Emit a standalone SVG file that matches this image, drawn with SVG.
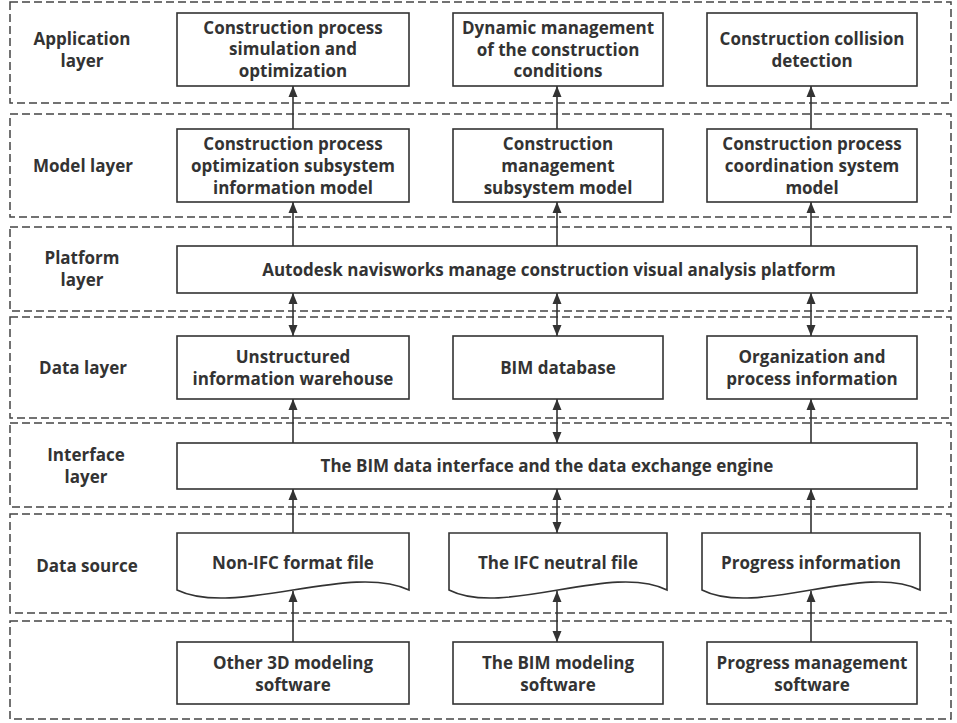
<svg xmlns="http://www.w3.org/2000/svg" width="957" height="723" viewBox="0 0 957 723">
<style>
.bg{fill:#fff}
.layer{fill:none;stroke:#444;stroke-width:1.5;stroke-dasharray:8 4}
.box{fill:#fff;stroke:#333;stroke-width:1.6}
.t{font-family:"Open Sans","Noto Sans","Liberation Sans",sans-serif;font-weight:bold;font-size:17px;fill:#333;text-anchor:middle}
.c{stroke:#333;stroke-width:1.6;fill:none}
</style>
<defs>
<marker id="ah" markerUnits="userSpaceOnUse" markerWidth="12" markerHeight="12" viewBox="0 0 12 12" refX="11" refY="6" orient="auto-start-reverse">
<path d="M0,1.5 L11,6 L0,10.5 Z" fill="#333"/>
</marker>
</defs>
<rect class="bg" x="0" y="0" width="957" height="723"/>
<g id="layers">
<rect class="layer" x="10" y="2" width="941" height="101"/>
<rect class="layer" x="10" y="114" width="941" height="103"/>
<rect class="layer" x="10" y="227" width="941" height="84"/>
<rect class="layer" x="10" y="317" width="941" height="101"/>
<rect class="layer" x="10" y="423" width="941" height="84"/>
<rect class="layer" x="10" y="514" width="941" height="99"/>
<rect class="layer" x="10" y="621" width="941" height="98"/>
</g>
<g id="layer-labels">
<text class="t" x="82" y="45">Application</text>
<text class="t" x="82" y="67">layer</text>
<text class="t" x="83" y="172">Model layer</text>
<text class="t" x="82" y="264">Platform</text>
<text class="t" x="82" y="286">layer</text>
<text class="t" x="83" y="374">Data layer</text>
<text class="t" x="86" y="461">Interface</text>
<text class="t" x="86" y="483">layer</text>
<text class="t" x="87" y="572">Data source</text>
</g>
<g id="app-left"><rect class="box" x="177" y="13" width="232" height="73"/>
<text class="t" x="293" y="34">Construction process</text><text class="t" x="293" y="55">simulation and</text><text class="t" x="293" y="77">optimization</text></g>
<g id="app-mid"><rect class="box" x="453" y="13" width="210" height="73"/>
<text class="t" x="558" y="34">Dynamic management</text><text class="t" x="558" y="56">of the construction</text><text class="t" x="558" y="77">conditions</text></g>
<g id="app-right"><rect class="box" x="707" y="13" width="210" height="73"/>
<text class="t" x="812" y="45">Construction collision</text><text class="t" x="812" y="67">detection</text></g>
<g id="model-left"><rect class="box" x="177" y="129" width="232" height="73"/>
<text class="t" x="293" y="150">Construction process</text><text class="t" x="293" y="172">optimization subsystem</text><text class="t" x="293" y="194">information model</text></g>
<g id="model-mid"><rect class="box" x="453" y="129" width="210" height="73"/>
<text class="t" x="558" y="150">Construction</text><text class="t" x="558" y="172">management</text><text class="t" x="558" y="194">subsystem model</text></g>
<g id="model-right"><rect class="box" x="707" y="129" width="210" height="73"/>
<text class="t" x="812" y="150">Construction process</text><text class="t" x="812" y="172">coordination system</text><text class="t" x="812" y="194">model</text></g>
<g id="platform"><rect class="box" x="177" y="246" width="740" height="47"/>
<text class="t" x="549" y="276">Autodesk navisworks manage construction visual analysis platform</text></g>
<g id="data-left"><rect class="box" x="177" y="336" width="232" height="63"/>
<text class="t" x="293" y="363">Unstructured</text><text class="t" x="293" y="385">information warehouse</text></g>
<g id="data-mid"><rect class="box" x="453" y="336" width="210" height="63"/>
<text class="t" x="558" y="374">BIM database</text></g>
<g id="data-right"><rect class="box" x="707" y="336" width="210" height="63"/>
<text class="t" x="812" y="363">Organization and</text><text class="t" x="812" y="385">process information</text></g>
<g id="interface"><rect class="box" x="177" y="443" width="740" height="46"/>
<text class="t" x="547" y="472">The BIM data interface and the data exchange engine</text></g>
<g id="src-left"><path class="box" d="M177,533 H409 V590 C351,562 235,618 177,590 Z"/>
<text class="t" x="293" y="569">Non-IFC format file</text></g>
<g id="src-mid"><path class="box" d="M449,533 H667 V590 C612.5,562 503.5,618 449,590 Z"/>
<text class="t" x="558" y="569">The IFC neutral file</text></g>
<g id="src-right"><path class="box" d="M702,533 H920 V590 C865.5,562 756.5,618 702,590 Z"/>
<text class="t" x="811" y="569">Progress information</text></g>
<g id="sw-left"><rect class="box" x="177" y="642" width="232" height="62"/>
<text class="t" x="293" y="669">Other 3D modeling</text><text class="t" x="293" y="691">software</text></g>
<g id="sw-mid"><rect class="box" x="453" y="642" width="210" height="62"/>
<text class="t" x="558" y="669">The BIM modeling</text><text class="t" x="558" y="691">software</text></g>
<g id="sw-right"><rect class="box" x="707" y="642" width="210" height="62"/>
<text class="t" x="812" y="669">Progress management</text><text class="t" x="812" y="691">software</text></g>
<g id="connectors">
<line class="c" x1="293" y1="129" x2="293" y2="86" marker-end="url(#ah)"/>
<line class="c" x1="557" y1="129" x2="557" y2="86" marker-end="url(#ah)"/>
<line class="c" x1="811" y1="129" x2="811" y2="86" marker-end="url(#ah)"/>
<line class="c" x1="293" y1="246" x2="293" y2="202" marker-end="url(#ah)"/>
<line class="c" x1="557" y1="246" x2="557" y2="202" marker-end="url(#ah)"/>
<line class="c" x1="811" y1="246" x2="811" y2="202" marker-end="url(#ah)"/>
<line class="c" x1="293" y1="336" x2="293" y2="293" marker-start="url(#ah)" marker-end="url(#ah)"/>
<line class="c" x1="557" y1="336" x2="557" y2="293" marker-start="url(#ah)" marker-end="url(#ah)"/>
<line class="c" x1="811" y1="336" x2="811" y2="293" marker-start="url(#ah)" marker-end="url(#ah)"/>
<line class="c" x1="293" y1="443" x2="293" y2="399" marker-end="url(#ah)"/>
<line class="c" x1="557" y1="443" x2="557" y2="399" marker-start="url(#ah)" marker-end="url(#ah)"/>
<line class="c" x1="811" y1="443" x2="811" y2="399" marker-end="url(#ah)"/>
<line class="c" x1="293" y1="533" x2="293" y2="489" marker-end="url(#ah)"/>
<line class="c" x1="557" y1="533" x2="557" y2="489" marker-start="url(#ah)" marker-end="url(#ah)"/>
<line class="c" x1="811" y1="533" x2="811" y2="489" marker-end="url(#ah)"/>
<line class="c" x1="293" y1="642" x2="293" y2="591" marker-end="url(#ah)"/>
<line class="c" x1="557" y1="642" x2="557" y2="591" marker-start="url(#ah)" marker-end="url(#ah)"/>
<line class="c" x1="811" y1="642" x2="811" y2="591" marker-end="url(#ah)"/>
</g>
</svg>
